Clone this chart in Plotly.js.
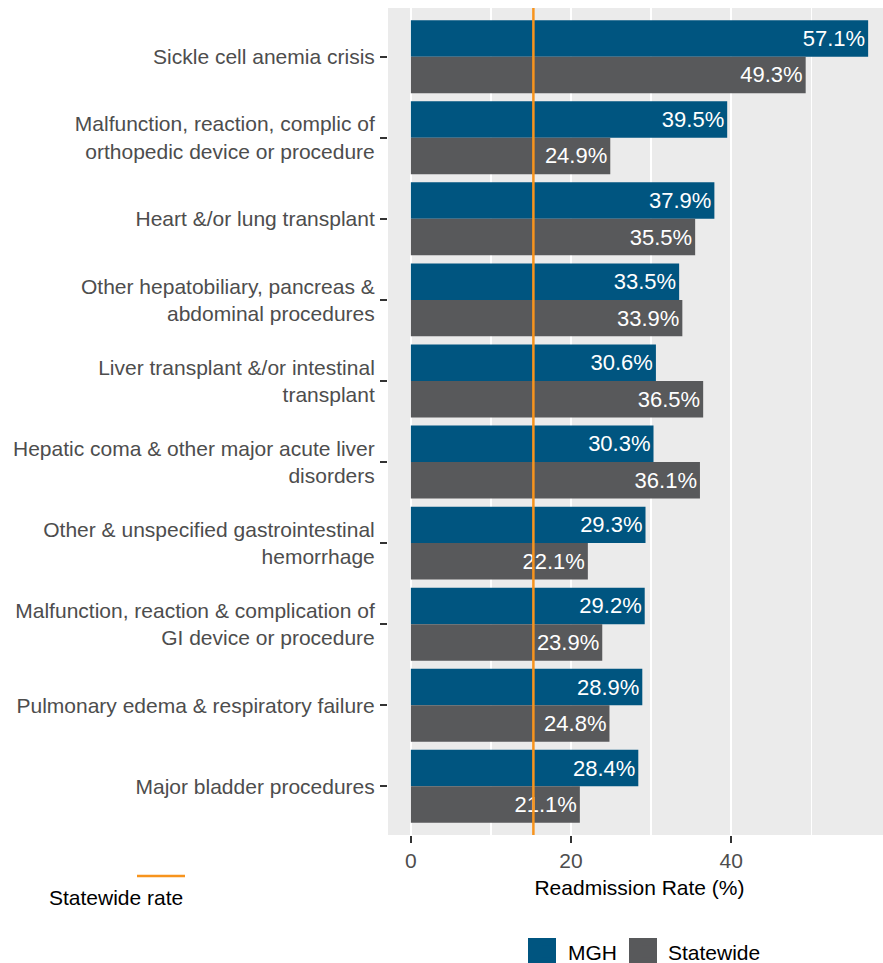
<!DOCTYPE html>
<html>
<head>
<meta charset="utf-8">
<script src="https://cdn.plot.ly/plotly-3.0.1.min.js"></script>
<style>
html, body { margin: 0; padding: 0; overflow: hidden; background: #fff; }
#chart { width: 891px; height: 963px; }
</style>
</head>
<body>
<div id="chart"></div>
<script>
// Categories, top to bottom
const categories = [
  "Sickle cell anemia crisis",
  "Malfunction, reaction, complic of<br>orthopedic device or procedure",
  "Heart &/or lung transplant",
  "Other hepatobiliary, pancreas &<br>abdominal procedures",
  "Liver transplant &/or intestinal<br>transplant",
  "Hepatic coma & other major acute liver<br>disorders",
  "Other & unspecified gastrointestinal<br>hemorrhage",
  "Malfunction, reaction & complication of<br>GI device or procedure",
  "Pulmonary edema & respiratory failure",
  "Major bladder procedures"
];
const mghValues       = [57.1, 39.5, 37.9, 33.5, 30.6, 30.3, 29.3, 29.2, 28.9, 28.4];
const statewideValues = [49.3, 24.9, 35.5, 33.9, 36.5, 36.1, 22.1, 23.9, 24.8, 21.1];
const statewideRate = 15.3;
const xTickVals = [0, 20, 40];
const seriesNames = ["MGH", "Statewide"];
const seriesColors = ["#005580", "#58595b"];
const rateColor = "#f7941d";
const rateLabel = "Statewide rate";
const xTitle = "Readmission Rate (%)";

const FONT = "Liberation Sans, Arial, Helvetica, sans-serif";
const fmt = v => v.toFixed(1) + "%";

const traces = [
  {
    type: "bar", orientation: "h", name: seriesNames[0], legend: "legend",
    x: mghValues, y: categories,
    marker: { color: seriesColors[0], line: { width: 0 } },
    text: mghValues.map(fmt), textposition: "inside", insidetextanchor: "end",
    textfont: { color: "#ffffff", size: 22, family: FONT },
    constraintext: "none", cliponaxis: false, hoverinfo: "skip"
  },
  {
    type: "bar", orientation: "h", name: seriesNames[1], legend: "legend2",
    x: statewideValues, y: categories,
    marker: { color: seriesColors[1], line: { width: 0 } },
    text: statewideValues.map(fmt), textposition: "inside", insidetextanchor: "end",
    textfont: { color: "#ffffff", size: 22, family: FONT },
    constraintext: "none", cliponaxis: false, hoverinfo: "skip"
  }
];

const plotTop = 8, plotBottom = 835, plotLeft = 388, plotRight = 891;
const pw = plotRight - plotLeft, ph = plotBottom - plotTop;
const px2x = p => (p - plotLeft) / pw;
const px2y = p => (plotBottom - p) / ph;

const legendBase = {
  orientation: "h",
  xanchor: "left",
  y: px2y(952), yanchor: "middle",
  font: { size: 21, color: "#000000", family: FONT },
  bgcolor: "rgba(0,0,0,0)",
  itemwidth: 30
};

// larger legend key boxes (ggplot-style), drawn behind the native legend symbols
const keyBox = (left, color) => ({
  type: "rect", xref: "paper", yref: "paper",
  x0: px2x(left), x1: px2x(left + 28), y0: px2y(938), y1: px2y(965),
  fillcolor: color, line: { width: 0 }, layer: "above"
});

const layout = {
  width: 891, height: 963,
  margin: { l: plotLeft, r: 0, t: plotTop, b: 963 - plotBottom, pad: 0, autoexpand: false },
  paper_bgcolor: "#ffffff",
  plot_bgcolor: "#ebebeb",
  font: { family: FONT, size: 21, color: "#000000" },
  barmode: "group", bargap: 0.1, bargroupgap: 0,
  xaxis: {
    range: [-2.855, 59.955],
    tickmode: "array", tickvals: xTickVals, ticktext: xTickVals.map(String),
    ticks: "outside", ticklen: 7, tickwidth: 2, tickcolor: "#333333",
    tickfont: { size: 21, color: "#4d4d4d", family: FONT },
    showgrid: true, gridcolor: "#ffffff", gridwidth: 2,
    minor: { dtick: 10, tick0: 0, showgrid: true, gridcolor: "#ffffff", gridwidth: 1.5, ticks: "" },
    zeroline: false, showline: false, automargin: false,
    title: { text: xTitle, font: { size: 21, color: "#000000", family: FONT }, standoff: 9 }
  },
  yaxis: {
    type: "category",
    categoryorder: "array", categoryarray: categories,
    range: [categories.length - 0.4, -0.6],
    ticks: "outside", ticklen: 7, tickwidth: 2, tickcolor: "#333333",
    ticklabelstandoff: 1,
    tickfont: { size: 21, color: "#4d4d4d", family: FONT },
    showgrid: false, zeroline: false, showline: false, automargin: false
  },
  showlegend: true,
  legend: Object.assign({}, legendBase, { x: px2x(528) }),
  legend2: Object.assign({}, legendBase, { x: px2x(628) }),
  shapes: [
    {
      type: "line", xref: "x", yref: "paper",
      x0: statewideRate, x1: statewideRate, y0: 0, y1: 1,
      line: { color: rateColor, width: 2.5 }, layer: "above"
    },
    {
      type: "line", xref: "paper", yref: "paper",
      x0: px2x(137), x1: px2x(185), y0: px2y(876), y1: px2y(876),
      line: { color: rateColor, width: 2.5 }
    },
    keyBox(528, seriesColors[0]),
    keyBox(629, seriesColors[1])
  ],
  annotations: [
    {
      xref: "paper", yref: "paper",
      x: px2x(185), y: px2y(897), xanchor: "right", yanchor: "middle",
      text: rateLabel, showarrow: false,
      font: { size: 21, color: "#000000", family: FONT }
    }
  ]
};

Plotly.newPlot("chart", traces, layout, { staticPlot: true, displayModeBar: false });
</script>
</body>
</html>
